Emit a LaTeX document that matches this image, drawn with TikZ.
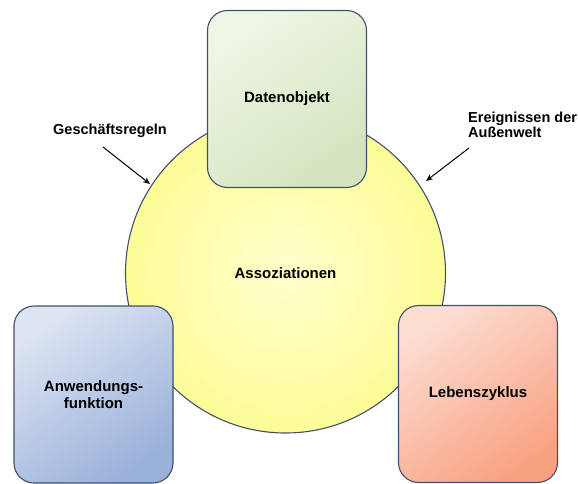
\documentclass[tikz,border=0pt]{standalone}
\usepackage{fontspec}
\setmainfont{Liberation Sans}
\usetikzlibrary{arrows.meta}
\begin{document}
\begin{tikzpicture}[x=1pt,y=-1pt,
  edgecol/.style={draw=edgeC, line width=1.1pt},
  boxstyle/.style={edgecol, rounded corners=20pt, minimum width=159pt,
    minimum height=177pt, inner sep=0pt, align=center,
    font=\bfseries\fontsize{15}{17.5}\selectfont},
  hub/.style={circle, edgecol, minimum size=320pt, inner sep=0pt,
    inner color=yellowA, outer color=yellowB,
    font=\bfseries\fontsize{15}{17.5}\selectfont},
  note/.style={font=\bfseries\fontsize{14.5}{15}\selectfont, inner sep=1pt},
  pointer/.style={-{Stealth[length=7pt,width=6pt]}, line width=1pt}]
\definecolor{edgeC}{HTML}{42506E}
\definecolor{yellowA}{HTML}{FFFFCC}
\definecolor{yellowB}{HTML}{FCFC98}
\definecolor{greenA}{HTML}{F0F6E6}
\definecolor{greenB}{HTML}{D3E4BE}
\definecolor{blueA}{HTML}{DCE4F2}
\definecolor{blueB}{HTML}{9AB1DA}
\definecolor{redA}{HTML}{FCDDD2}
\definecolor{redB}{HTML}{F9A282}
\useasboundingbox (0,0) rectangle (578,484);

% central circle
\node[hub] (assoc) at (285.5,273) {Assoziationen};

% the three boxes around it
\node[boxstyle, top color=greenA, bottom color=greenB, shading angle=35]
  (daten) at (287,99) {Datenobjekt};
\node[boxstyle, top color=blueA, bottom color=blueB, shading angle=35]
  (anw) at (93.5,394.5) {Anwendungs-\\funktion};
\node[boxstyle, top color=redA, bottom color=redB, shading angle=35]
  (leben) at (478,394) {Lebenszyklus};

% side notes with pointers onto the circle
\node[note] (geschaeft) at (110,131) {Geschäftsregeln};
\node[note, align=left, anchor=north west] (ereign) at (467,111)
  {Ereignissen der\\Außenwelt};
\coordinate (gtip) at (150,184);
\coordinate (etip) at (426,181);
\coordinate (gstart) at (103,147);
\coordinate (estart) at (469,148);
\draw[pointer] (gstart) -- (gtip);
\draw[pointer] (estart) -- (etip);
\end{tikzpicture}
\end{document}
